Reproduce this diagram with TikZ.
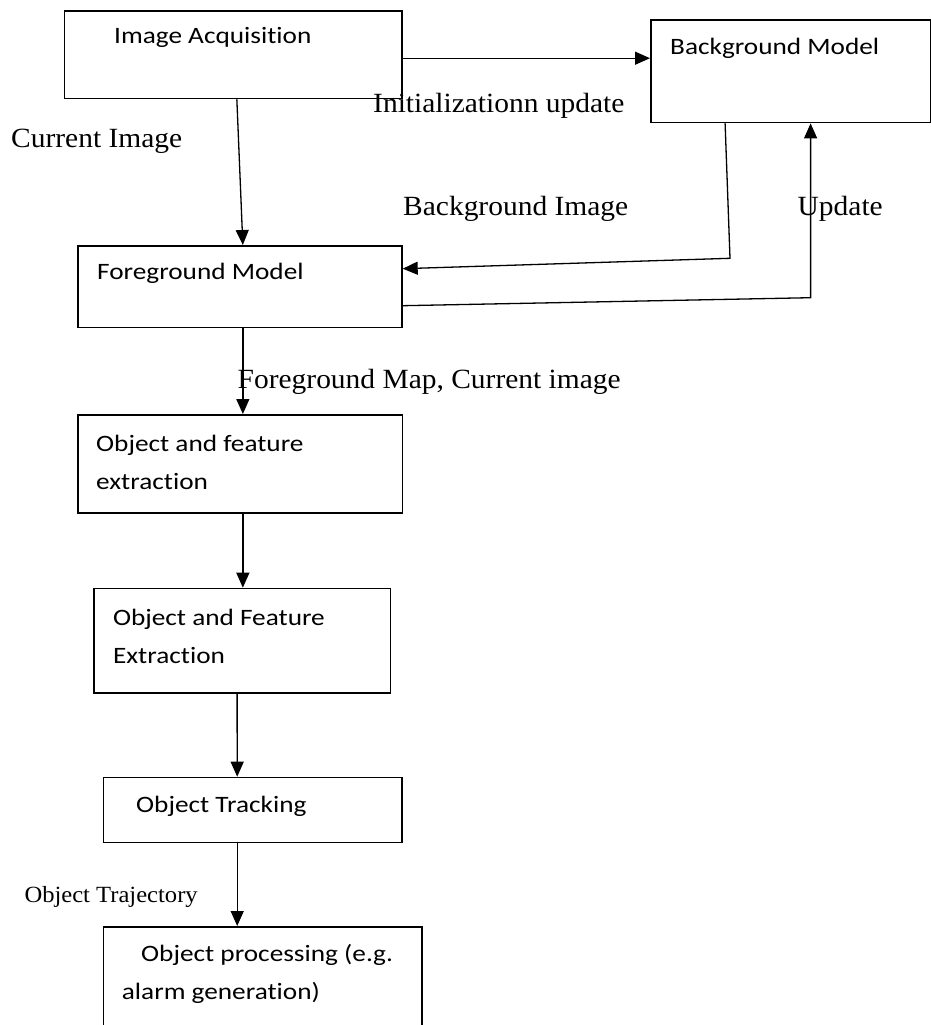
\documentclass[tikz,border=0pt]{standalone}
\usepackage{fontspec}
\usepackage{graphicx}
\setmainfont{Liberation Serif}
\newfontfamily\calibrifont[Ligatures=NoCommon]{Carlito}
\usetikzlibrary{arrows.meta}
\newcommand{\hs}[1]{\scalebox{1.16}[1]{#1}}
\newcommand{\tsx}[1]{\scalebox{1.06}[1]{#1}}
\begin{document}
\begin{tikzpicture}[x=1pt,y=-1pt,
  box/.style={draw, line width=1.7pt, inner sep=0pt, anchor=north west},
  arr/.style={line width=1.3pt, -{Triangle[length=15pt,width=13pt]}},
  btxt/.style={font={\calibrifont\fontsize{23.5}{38}\selectfont}, inner sep=0pt, anchor=west, align=left},
  ltxt/.style={font={\fontsize{27.8}{32}\selectfont}, inner sep=0pt, anchor=west},
  stxt/.style={font={\fontsize{23.2}{27}\selectfont}, inner sep=0pt, anchor=west}]
\useasboundingbox (0,0) rectangle (931,1025);
\begin{scope}
\clip (0,0) rectangle (931,1025);
% boxes
\node[box, minimum width=337.5pt, minimum height=87.7pt] (ia) at (63.5,10) {};
\node[box, minimum width=279.5pt, minimum height=102.4pt] (bm) at (650,19.3) {};
\node[box, minimum width=324pt, minimum height=81.7pt] (fm) at (77,245) {};
\node[box, minimum width=324.5pt, minimum height=98pt] (ofe) at (77,414) {};
\node[box, minimum width=296.5pt, minimum height=104.6pt] (ofe2) at (93,587.7) {};
\node[box, minimum width=298.7pt, minimum height=65pt] (ot) at (102.7,776.7) {};
\node[box, minimum width=318.3pt, minimum height=130pt] (op) at (102.7,926) {};
\end{scope}
% box texts
\node[btxt] (tia) at (114,37.8) {\hs{Image Acquisition}};
\node[btxt] (tbm) at (670,48) {\hs{Background Model}};
\node[btxt] (tfm) at (97,273) {\hs{Foreground Model}};
\node[btxt] (tofe) at (96,462) {\hs{Object and feature}\\\hs{extraction}};
\node[btxt] (tofe2) at (112.8,636) {\hs{Object and Feature}\\\hs{Extraction}};
\node[btxt] (tot) at (136,806.7) {\hs{Object Tracking}};
\node[btxt] (top) at (121.7,974) {\hspace{19.3pt}\hs{Object processing (e.g.}\\\hs{alarm generation)}};
% labels
\node[ltxt] (linit) at (373,106) {\tsx{Initializationn update}};
\node[ltxt] (lcur) at (11,141) {\tsx{Current Image}};
\node[ltxt] (lbgi) at (403,209) {\tsx{Background Image}};
\node[ltxt] (lupd) at (797.5,209) {\tsx{Update}};
\node[ltxt] (lfgm) at (237.5,381.5) {\tsx{Foreground Map, Current image}};
\node[stxt] (ltraj) at (24.3,897) {\tsx{Object Trajectory}};
% connectors
\coordinate (a1) at ([yshift=-3.5pt]ia.east);
\draw[arr] (a1) -- (a1 -| bm.west);
\draw[arr] ([xshift=3.75pt]ia.south) -- ([xshift=3pt]fm.north);
\coordinate (b1) at (730,258.3);
\draw[arr] ([xshift=-65.5pt]bm.south) -- (b1) -- ([yshift=18pt]fm.east);
\coordinate (u1) at (810.6,297.7);
\draw[arr] ([yshift=-19pt]fm.east) -- (u1) -- (u1 |- bm.south);
\draw[arr] ([xshift=3pt]fm.south) -- ([xshift=2.75pt]ofe.north);
\draw[arr] ([xshift=2.75pt]ofe.south) -- ([xshift=0.75pt]ofe2.north);
\draw[arr] ([xshift=-5pt]ofe2.south) -- ([xshift=-15.7pt]ot.north);
\draw[arr] ([xshift=-15.7pt]ot.south) -- ([xshift=-25.5pt]op.north);
\end{tikzpicture}
\end{document}
